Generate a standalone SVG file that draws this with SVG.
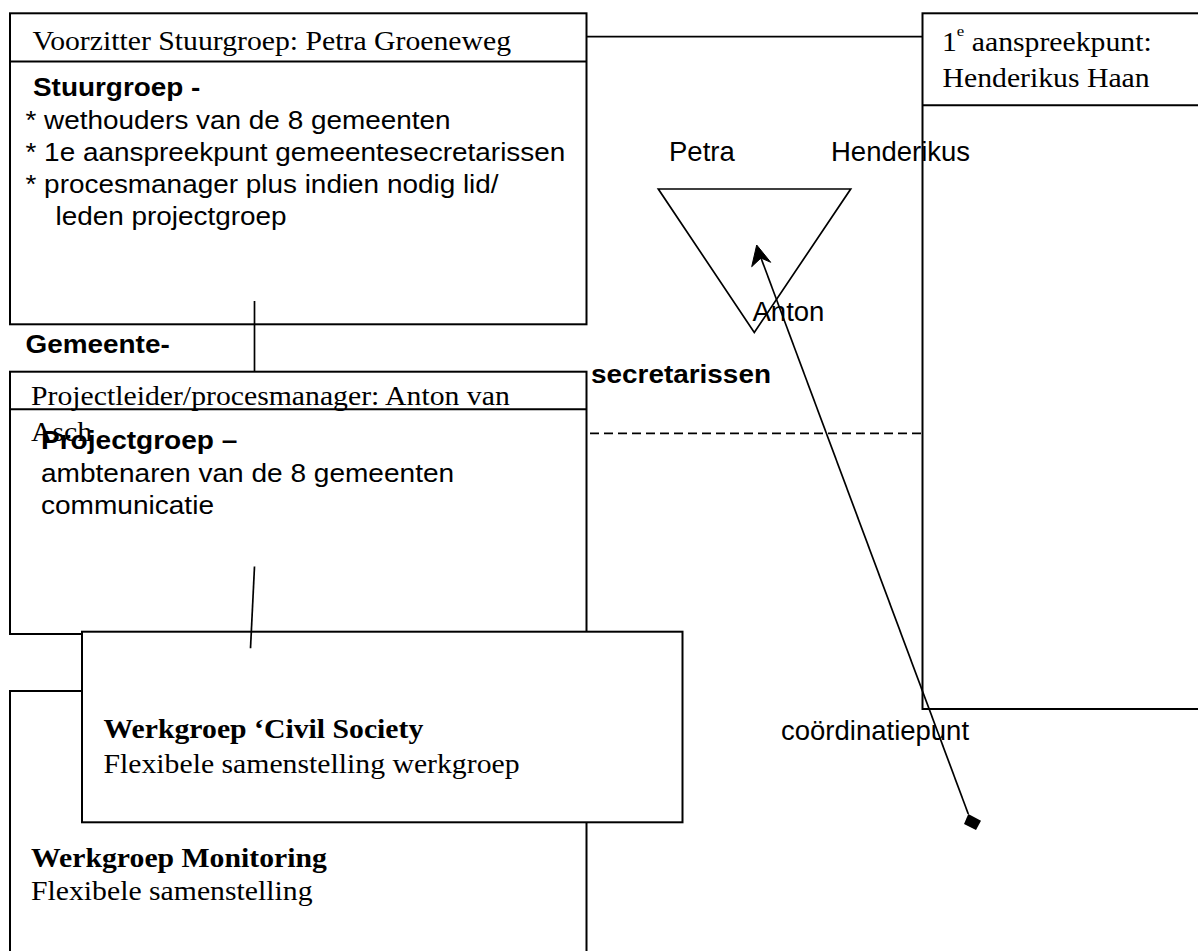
<svg xmlns="http://www.w3.org/2000/svg" width="1198" height="951" viewBox="0 0 1198 951">
<style>
.box{fill:#fff;stroke:#000;stroke-width:2}
.ln{stroke:#000;stroke-width:2;fill:none}
.cn{stroke:#000;stroke-width:1.7;fill:none}
.tr{font-family:"Liberation Serif","Times New Roman",serif;font-size:26.5px;fill:#000}
.ar{font-family:"Liberation Sans",Arial,sans-serif;font-size:25.5px;fill:#000}
.b{font-weight:bold}
.lbl{font-family:"Liberation Sans",Arial,sans-serif;font-size:27.5px;fill:#000}
</style>
<rect width="1198" height="951" fill="#fff"/>

<g id="henderikus">
<rect class="box" x="922.5" y="13.3" width="300" height="695.7"/>
<line class="ln" x1="922.5" y1="105.3" x2="1198" y2="105.3"/>
<text class="tr" transform="matrix(1.122 0 0 1 942 51)">1<tspan font-size="15" dy="-15">e</tspan><tspan dy="15"> aanspreekpunt:</tspan></text>
<text class="tr" transform="matrix(1.122 0 0 1 942.5 87.3)">Henderikus Haan</text>
</g>

<g id="stuurgroep">
<rect class="box" x="10" y="13.3" width="576.5" height="311"/>
<line class="ln" x1="10" y1="61.5" x2="586.5" y2="61.5"/>
<text class="tr" transform="matrix(1.122 0 0 1 32.5 49.5)">Voorzitter Stuurgroep: Petra Groeneweg</text>
<text class="ar b" transform="matrix(1.095 0 0 1 33 96)">Stuurgroep -</text>
<text class="ar" transform="matrix(1.095 0 0 1 25.5 128.5)">* wethouders van de 8 gemeenten</text>
<text class="ar" transform="matrix(1.095 0 0 1 25.5 160.5)">* 1e aanspreekpunt gemeentesecretarissen</text>
<text class="ar" transform="matrix(1.095 0 0 1 25.5 192.5)">* procesmanager plus indien nodig lid/</text>
<text class="ar" transform="matrix(1.095 0 0 1 55.5 224.5)">leden projectgroep</text>
</g>

<g id="projectgroep">
<rect class="box" x="10" y="371.7" width="576.5" height="262.3"/>
<line class="ln" x1="10" y1="409.3" x2="586.5" y2="409.3"/>
<text class="tr" transform="matrix(1.122 0 0 1 31 405)">Projectleider/procesmanager: Anton van</text>
<text class="tr" transform="matrix(1.122 0 0 1 31 441)">Asch</text>
<text class="ar b" transform="matrix(1.1 0 0 1 41 449)">Projectgroep –</text>
<text class="ar" transform="matrix(1.1 0 0 1 41 481.5)">ambtenaren van de 8 gemeenten</text>
<text class="ar" transform="matrix(1.1 0 0 1 41 513.5)">communicatie</text>
</g>

<g id="monitoring">
<rect class="box" x="10" y="691" width="576.5" height="300"/>
<text class="tr b" transform="matrix(1.122 0 0 1 31 866.5)">Werkgroep Monitoring</text>
<text class="tr" transform="matrix(1.122 0 0 1 31 900)">Flexibele samenstelling</text>
</g>

<g id="civilsociety">
<rect class="box" x="82" y="631.7" width="600.5" height="190.6"/>
<text class="tr b" transform="matrix(1.122 0 0 1 103.5 738)">Werkgroep ‘Civil Society</text>
<text class="tr" transform="matrix(1.122 0 0 1 103.5 772.5)">Flexibele samenstelling werkgroep</text>
</g>

<g id="gemeentesecretarissen">
<text class="ar b" transform="matrix(1.095 0 0 1 25.5 352.5)">Gemeente-</text>
<text class="ar b" transform="matrix(1.095 0 0 1 591 383)">secretarissen</text>
</g>

<g id="coordinatiepunt">
<polygon class="cn" points="658.3,189 850.7,189 754.3,332.5"/>
<text class="lbl" x="669" y="161">Petra</text>
<text class="lbl" x="831" y="161">Henderikus</text>
<text class="lbl" x="752.5" y="321">Anton</text>
<text class="lbl" x="781" y="740" font-size="27">coördinatiepunt</text>
</g>

<g id="connectors">
<line class="cn" x1="586.5" y1="36.7" x2="922.5" y2="36.7"/>
<line class="cn" x1="254.5" y1="301" x2="254.5" y2="372"/>
<line class="cn" x1="590" y1="433.3" x2="922.5" y2="433.3" stroke-dasharray="9 5"/>
<line class="cn" x1="254.5" y1="566.5" x2="250.5" y2="648.3"/>
<line class="cn" x1="968.3" y1="814" x2="761" y2="258"/>
<polygon points="756.7,245 770.7,262.3 761,258 751.7,266.7" fill="#000" stroke="#000" stroke-width="1"/>
<polygon points="968.3,814 981,820.7 976,830 964,824" fill="#000"/>
</g>
</svg>
